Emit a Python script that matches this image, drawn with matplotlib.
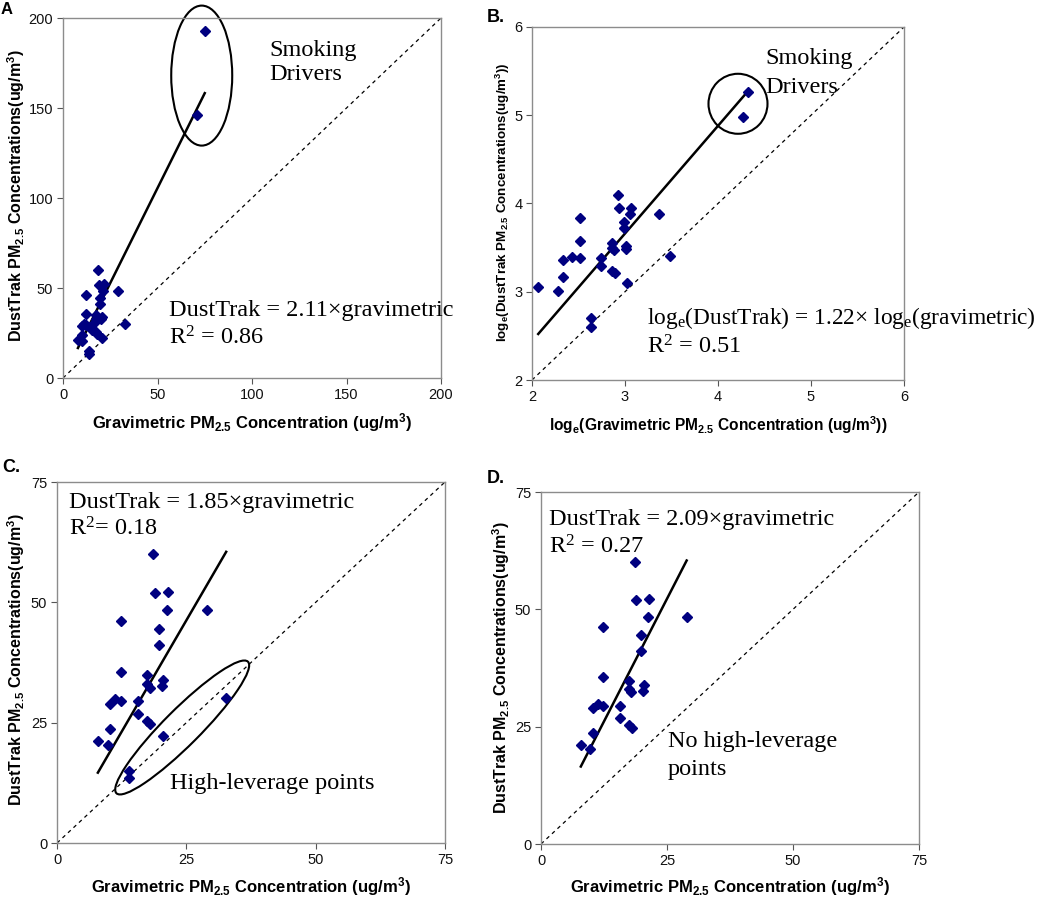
import numpy as np
import matplotlib
matplotlib.use('Agg')
import matplotlib.pyplot as plt
from matplotlib.patches import Ellipse
from matplotlib.transforms import ScaledTranslation


# DustTrak vs gravimetric PM2.5 (ug/m3)
# non-smoking, non-leverage samples (panel D)
grav = [7.9, 9.8, 10.3, 10.3, 11.3, 12.4, 12.4, 12.4, 15.6, 15.6, 17.4, 17.4,
        17.9, 17.4, 18.0, 18.6, 18.9, 19.8, 19.8, 20.4, 20.3, 21.2, 21.5, 28.9]
dust = [21.2, 20.3, 23.7, 28.9, 29.9, 29.5, 35.5, 46.2, 29.5, 26.8, 34.8, 33.0,
        32.3, 25.4, 24.7, 60.0, 51.9, 44.5, 41.2, 33.9, 32.7, 48.4, 52.1, 48.4]
# high-leverage points (added in panel C)
lev_grav = [20.5, 14.0, 13.9, 32.7]
lev_dust = [22.2, 14.9, 13.5, 30.2]
# smoking drivers (added in panel A)
smoke_grav = [71.1, 75.0]
smoke_dust = [146.0, 193.0]

# regression slopes (through origin) and R2 as printed
slopes = {'A': 2.11, 'B': 1.22, 'C': 1.85, 'D': 2.09}
r2 = {'A': '0.86', 'B': '0.51', 'C': '0.18', 'D': '0.27'}

W, H = 1050, 897
SANS = 'Liberation Sans'
SERIF = 'Liberation Serif'
NAVY = '#000080'
SPINE = '#8c8c8c'

plt.rcParams['mathtext.default'] = 'regular'
plt.rcParams['font.family'] = SANS


def fx(px):
    return px / W


def fy(py):
    return 1 - py / H


def make_ax(fig, l, t, r, b):
    ax = fig.add_axes([fx(l), fy(b), (r - l) / W, (b - t) / H])
    for s in ax.spines.values():
        s.set_color(SPINE)
        s.set_linewidth(1.0)
    ax.tick_params(direction='out', length=4, width=0.8, color='#555555',
                   labelsize=10.5, pad=3, labelcolor='#111111')
    return ax


def px_ellipse(fig, ax, x, y, w, h, angle=0):
    # ellipse sized in pixels, centred on data point
    tr = fig.dpi_scale_trans + ScaledTranslation(x, y, ax.transData)
    e = Ellipse((0, 0), w / 100, h / 100, angle=angle, transform=tr,
                fill=False, ec='black', lw=1.5, clip_on=False)
    ax.add_patch(e)


def scatter_fit(ax, xs, ys, slope, lo, hi):
    ax.plot([lo, hi], [lo, hi], 'k--', lw=0.9, dashes=(3, 3))
    xs = np.asarray(xs)
    xf = np.array([xs.min(), xs.max()])
    ax.plot(xf, slope * xf, color='black', lw=1.8)
    ax.plot(xs, ys, 'D', color=NAVY, ms=5, mec=NAVY)
    ax.set_xlim(lo, hi)
    ax.set_ylim(lo, hi)


xlab = 'Gravimetric PM$_{2.5}$ Concentration (ug/m$^3$)'
ylab = 'DustTrak PM$_{2.5}$ Concentrations(ug/m$^3$)'
xlab_kw = dict(fontsize=12, fontweight='bold', family=SANS)
ylab_kw = dict(fontsize=11.5, fontweight='bold', family=SANS)
ann_kw = dict(fontsize=17.5, family=SERIF)

fig = plt.figure(figsize=(W / 100, H / 100), dpi=100)

# ---- A: all samples
xa = np.array(grav + lev_grav + smoke_grav)
ya = np.array(dust + lev_dust + smoke_dust)
ax = make_ax(fig, 63, 18, 441, 378)
scatter_fit(ax, xa, ya, slopes['A'], 0, 200)
ax.set_xticks([0, 50, 100, 150, 200])
ax.set_yticks([0, 50, 100, 150, 200])
px_ellipse(fig, ax, 73.4, 168, 61, 140)
ax.text(109, 188, 'Smoking\nDrivers', va='top', linespacing=1.2, **ann_kw)
ax.text(56, 34.6, 'DustTrak = %.2f\u00d7gravimetric' % slopes['A'], **ann_kw)
ax.text(56, 18.5, 'R$^2$ = ' + r2['A'], **ann_kw)
fig.text(fx(252), fy(423), xlab, ha='center', va='center', **xlab_kw)
fig.text(fx(16), fy(196), ylab, ha='center', va='center', rotation=90, **ylab_kw)
fig.text(fx(1), fy(1.5), 'A', ha='left', va='top', fontsize=12, fontweight='bold')

# ---- B: log-log of all samples
ax = make_ax(fig, 532, 27, 904, 380)
scatter_fit(ax, np.log(xa), np.log(ya), slopes['B'], 2, 6)
ax.set_xticks([2, 3, 4, 5, 6])
ax.set_yticks([2, 3, 4, 5, 6])
px_ellipse(fig, ax, 4.215, 5.13, 59, 60)
ax.text(4.51, 5.58, 'Smoking', **ann_kw)
ax.text(4.51, 5.25, 'Drivers', **ann_kw)
ax.text(3.24, 2.64, 'log$_e$(DustTrak) = %.2f\u00d7 log$_e$(gravimetric)' % slopes['B'],
        clip_on=False, fontsize=16.8, family=SERIF)
ax.text(3.24, 2.30, 'R$^2$ = ' + r2['B'], **ann_kw)
fig.text(fx(718), fy(425), 'log$_e$(' + xlab + ')', ha='center', va='center',
         fontsize=11.2, fontweight='bold')
fig.text(fx(503), fy(202), 'log$_e$(' + ylab + ')', ha='center', va='center',
         rotation=90, fontsize=9.6, fontweight='bold')
fig.text(fx(487), fy(18), 'B.', ha='left', va='center', fontsize=13, fontweight='bold')

# ---- C: without smoking drivers
xc = np.array(grav + lev_grav)
yc = np.array(dust + lev_dust)
ax = make_ax(fig, 57, 482, 445, 843)
scatter_fit(ax, xc, yc, slopes['C'], 0, 75)
ax.set_xticks([0, 25, 50, 75])
ax.set_yticks([0, 25, 50, 75])
px_ellipse(fig, ax, 24.2, 24.0, 186, 36, angle=45)
ax.text(2.4, 69.7, 'DustTrak = %.2f\u00d7gravimetric' % slopes['C'], **ann_kw)
ax.text(2.4, 63.9, 'R$^2$= ' + r2['C'], **ann_kw)
ax.text(21.8, 11.3, 'High-leverage points', **ann_kw)
fig.text(fx(251), fy(887), xlab, ha='center', va='center', **xlab_kw)
fig.text(fx(16), fy(660), ylab, ha='center', va='center', rotation=90, **ylab_kw)
fig.text(fx(2), fy(467), 'C.', ha='left', va='center', fontsize=13, fontweight='bold')

# ---- D: without smoking drivers and high-leverage points
ax = make_ax(fig, 541, 492, 919, 844)
scatter_fit(ax, grav, dust, slopes['D'], 0, 75)
ax.set_xticks([0, 25, 50, 75])
ax.set_yticks([0, 25, 50, 75])
ax.text(1.65, 68.0, 'DustTrak = %.2f\u00d7gravimetric' % slopes['D'], **ann_kw)
ax.text(1.65, 61.9, 'R$^2$ = ' + r2['D'], **ann_kw)
ax.text(25.1, 20.7, 'No high-leverage', **ann_kw)
ax.text(25.1, 14.7, 'points', **ann_kw)
fig.text(fx(730), fy(887), xlab, ha='center', va='center', **xlab_kw)
fig.text(fx(501), fy(668), ylab, ha='center', va='center', rotation=90, **ylab_kw)
fig.text(fx(487), fy(478), 'D.', ha='left', va='center', fontsize=13, fontweight='bold')

fig.savefig('out.png', dpi=100)
